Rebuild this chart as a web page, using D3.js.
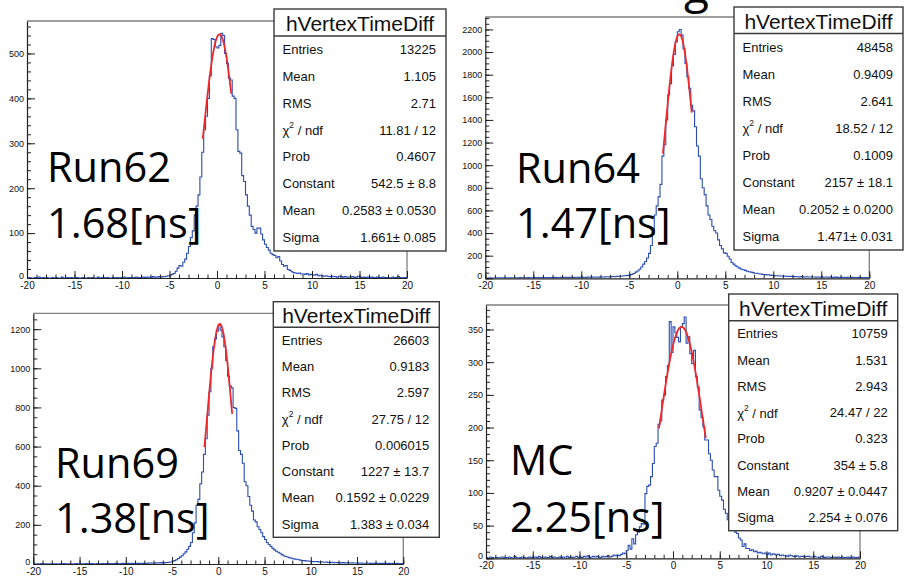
<!DOCTYPE html>
<html><head><meta charset="utf-8">
<script src="https://cdn.jsdelivr.net/npm/d3@7"></script>
<style>body{margin:0;background:#fff;overflow:hidden}</style>
</head><body><svg id="c" width="912" height="578"></svg>
<script>
// ---------------- DATA ----------------
const panelNames = ["Run62", "Run64", "Run69", "MC"];
const resolutionLabels = ["1.68[ns]", "1.47[ns]", "1.38[ns]", "2.25[ns]"];
const histName = "hVertexTimeDiff";
const clippedTitleFragment = "g";
const xDomain = [-20, 20];
const nBins = 200;
const xMajorTicks = [-20, -15, -10, -5, 0, 5, 10, 15, 20];

// bin contents, 0.2 wide bins from -20 to 20 (10 bins per row)
const run62Counts = [
  0,1,0,0,1,0,2,0,1,0,
  1,0,0,1,0,1,0,0,2,0,
  0,1,0,1,0,0,1,0,0,1,
  0,0,1,0,1,0,0,2,0,1,
  1,0,1,0,0,1,0,1,0,1,
  1,2,0,1,1,0,1,2,1,1,
  1,2,1,2,2,1,3,2,2,3,
  2,3,3,4,5,6,8,10,15,22,
  28,26,35,42,55,70,90,105,140,160,
  185,225,280,330,360,400,450,533,531,515,
  512,518,545,540,500,478,445,441,405,400,
  330,282,278,228,215,185,160,140,115,108,
  100,111,111,98,85,75,68,62,55,52,
  50,45,48,38,30,26,28,19,17,14,
  12,11,10,11,9,9,8,10,7,8,
  7,6,8,5,6,5,4,5,4,3,
  4,3,3,2,4,3,2,3,2,2,
  2,3,1,2,4,2,1,2,1,2,
  1,2,1,1,2,1,1,2,1,1,
  1,0,2,1,1,3,1,0,1,1
];
const run64Counts = [
  3,2,4,3,2,3,5,3,4,3,
  4,3,5,4,3,4,5,4,6,4,
  5,4,6,5,4,6,5,7,5,6,
  6,5,7,6,7,6,8,6,7,8,
  7,8,6,8,9,7,8,9,8,9,
  8,9,7,10,9,10,11,9,12,10,
  12,11,13,14,12,15,16,14,17,18,
  18,20,22,24,26,30,35,42,55,65,
  80,100,125,148,180,220,290,390,560,640,
  720,830,1080,1180,1400,1620,1720,1880,1980,2090,
  2180,2200,2150,2030,1900,1780,1680,1530,1480,1340,
  1170,1080,880,800,740,640,560,520,460,420,
  400,340,290,260,225,220,195,170,140,125,
  110,100,90,80,75,70,62,58,55,50,
  45,44,40,38,35,33,30,31,28,26,
  24,22,23,20,21,19,18,17,16,17,
  15,16,14,13,15,13,12,14,11,12,
  11,12,10,11,10,10,9,11,9,10,
  9,8,10,8,9,8,9,7,8,9,
  7,8,7,6,8,7,6,7,6,5
];
const run69Counts = [
  1,0,1,0,2,1,0,1,0,1,
  0,1,1,0,1,0,2,1,0,1,
  1,0,1,2,0,1,1,0,2,1,
  1,2,1,0,2,1,1,2,1,2,
  2,1,2,1,3,2,1,2,3,2,
  2,3,2,3,2,4,3,3,4,3,
  4,3,5,4,5,4,6,5,6,7,
  6,7,8,9,10,14,17,22,28,35,
  42,52,62,75,90,110,160,210,300,330,
  410,470,560,640,760,880,1000,1110,1150,1190,
  1220,1195,1160,1110,1040,960,910,900,800,795,
  680,580,560,515,420,400,345,300,270,225,
  215,190,175,160,140,125,110,100,90,80,
  72,65,60,55,48,42,38,36,32,30,
  27,25,24,22,20,18,17,16,15,14,
  13,12,13,12,11,11,10,9,10,8,
  8,9,7,8,7,7,6,7,6,6,
  6,5,6,5,5,5,4,5,4,4,
  4,4,3,4,3,3,4,3,3,3,
  3,2,3,2,3,2,3,2,2,2
];
const mcCounts = [
  1,0,2,1,0,1,1,0,2,1,
  0,1,2,1,0,3,1,0,1,2,
  1,0,1,2,1,0,2,1,3,1,
  0,2,1,1,3,1,2,0,1,2,
  1,2,0,3,1,2,1,2,3,1,
  2,1,3,2,4,1,2,3,2,3,
  2,1,3,2,3,4,2,3,5,4,
  5,4,6,8,7,12,20,14,30,22,
  36,40,48,53,52,99,110,112,125,145,
  171,176,205,210,242,250,278,295,362,315,
  354,345,338,331,354,359,369,329,339,313,
  298,318,278,262,227,215,201,181,181,160,
  150,135,125,125,104,95,89,75,69,59,
  55,50,45,40,38,31,28,18,22,15,
  15,12,13,10,11,8,9,8,7,8,
  6,8,5,7,6,5,6,4,5,4,
  4,3,5,4,3,3,4,2,3,3,
  2,3,3,2,2,3,2,2,1,3,
  2,1,2,2,1,1,2,1,2,1,
  2,1,1,2,1,1,2,1,1,2
];

const statLabels = ["Entries", "Mean", "RMS", "CHI2", "Prob", "Constant", "Mean", "Sigma"];
const run62Stats = ["13225", "1.105", "2.71", "11.81 / 12", "0.4607", "542.5 \u00b1 8.8", "0.2583 \u00b1 0.0530", "1.661\u00b1 0.085"];
const run64Stats = ["48458", "0.9409", "2.641", "18.52 / 12", "0.1009", "2157 \u00b1 18.1", "0.2052 \u00b1 0.0200", "1.471\u00b1 0.031"];
const run69Stats = ["26603", "0.9183", "2.597", "27.75 / 12", "0.006015", "1227 \u00b1 13.7", "0.1592 \u00b1 0.0229", "1.383 \u00b1 0.034"];
const mcStats = ["10759", "1.531", "2.943", "24.47 / 22", "0.323", "354 \u00b1 5.8", "0.9207 \u00b1 0.0447", "2.254 \u00b1 0.076"];

// Gaussian fit results [Constant, Mean, Sigma] and fit ranges
const run62Fit = [542.5, 0.2583, 1.661];
const run64Fit = [2157, 0.2052, 1.471];
const run69Fit = [1227, 0.1592, 1.383];
const mcFit = [354, 0.9207, 2.254];
const fitRanges = [[-1.5, 1.5], [-1.5, 1.5], [-1.5, 1.5], [-1.5, 3.5]];

const yMajorSteps = [100, 200, 200, 50];
const yMinorSteps = [20, 50, 50, 10];

// ---------------- LAYOUT ----------------
const layouts = [
  {x0: 27, x1: 407, yt: 21, yb: 278, box: {l: 274, r: 446, t: 9, b: 251, sep: 36}, big: {x: 47, y1: 182, y2: 238}},
  {x0: 485.3, x1: 869.3, yt: 17, yb: 278.3, box: {l: 734, r: 903, t: 7, b: 250, sep: 33.5}, big: {x: 516, y1: 183, y2: 238}},
  {x0: 33.3, x1: 403.3, yt: 313.3, yb: 564, box: {l: 273.3, r: 439.3, t: 301.7, b: 537.3, sep: 327.3}, big: {x: 55, y1: 478, y2: 533}},
  {x0: 486, x1: 860, yt: 305, yb: 558.3, box: {l: 728.7, r: 897.7, t: 294, b: 530.7, sep: 320.7}, big: {x: 510, y1: 475, y2: 531.5}}
];

const countsList = [run62Counts, run64Counts, run69Counts, mcCounts];
const statsList = [run62Stats, run64Stats, run69Stats, mcStats];
const fitList = [run62Fit, run64Fit, run69Fit, mcFit];

const svg = d3.select("#c");
const AXFONT = "'Liberation Sans', Arial, Helvetica, sans-serif";
const bigFont = "'Open Sans', 'Noto Sans', sans-serif";

panelNames.forEach((name, k) => {
  const L = layouts[k];
  const counts = countsList[k];
  const x = d3.scaleLinear().domain(xDomain).range([L.x0, L.x1]);
  const ymax = d3.max(counts) * 1.05;
  const y = d3.scaleLinear().domain([0, ymax]).range([L.yb, L.yt]);
  const g = svg.append("g");

  const clipId = "clip" + k;
  svg.append("clipPath").attr("id", clipId).append("rect")
    .attr("x", L.x0).attr("y", L.yt).attr("width", L.x1 - L.x0).attr("height", L.yb - L.yt);

  // frame (top & right)
  g.append("path").attr("d", `M${L.x0},${L.yt}H${L.x1}V${L.yb}`)
    .attr("fill", "none").attr("stroke", "#808080").attr("stroke-width", 1.3);

  // histogram steps
  const bw = (xDomain[1] - xDomain[0]) / nBins;
  const pts = [[xDomain[0], 0]];
  counts.forEach((c, i) => {
    const xl = xDomain[0] + i * bw;
    pts.push([xl, c], [xl + bw, c]);
  });
  pts.push([xDomain[1], 0]);
  g.append("path")
    .attr("clip-path", `url(#${clipId})`)
    .attr("d", d3.line().x(d => x(d[0])).y(d => y(d[1]))(pts))
    .attr("fill", "none").attr("stroke", "#2a4cb3").attr("stroke-width", 1.1);

  // gaussian fit drawn from the fitted parameters
  const [A, mu, sig] = fitList[k];
  const fr = fitRanges[k];
  const fx = d3.range(fr[0], fr[1] + 1e-9, 0.02);
  g.append("path")
    .attr("d", d3.line().x(d => x(d)).y(d => y(A * Math.exp(-0.5 * ((d - mu) / sig) ** 2)))(fx))
    .attr("fill", "none").attr("stroke", "#f0282a").attr("stroke-width", 1.8);

  // axes
  const xAx = g.append("g").attr("transform", `translate(0,${L.yb})`)
    .call(d3.axisBottom(x).tickValues(xMajorTicks).tickSize(-7).tickSizeOuter(0).tickPadding(4.5).tickFormat(d => String(d)));
  g.append("g").attr("transform", `translate(0,${L.yb})`)
    .call(d3.axisBottom(x).tickValues(d3.range(xDomain[0], xDomain[1] + 1, 1)).tickSize(-3.5).tickFormat(""))
    .call(s => s.select(".domain").remove());
  const yMaj = d3.range(0, ymax, yMajorSteps[k]);
  const yMin = d3.range(0, ymax, yMinorSteps[k]);
  const yAx = g.append("g").attr("transform", `translate(${L.x0},0)`)
    .call(d3.axisLeft(y).tickValues(yMaj).tickSize(-8).tickSizeOuter(0).tickPadding(3).tickFormat(d => String(d)));
  g.append("g").attr("transform", `translate(${L.x0},0)`)
    .call(d3.axisLeft(y).tickValues(yMin).tickSize(-4).tickFormat(""))
    .call(s => s.select(".domain").remove());
  g.selectAll(".tick line").attr("stroke", "#222");
  g.selectAll(".domain").attr("stroke", "#222").attr("stroke-width", 1.2);
  xAx.selectAll("text").attr("font-family", AXFONT).attr("font-size", 10).attr("fill", "#111").attr("dy", "0.62em");
  yAx.selectAll("text").attr("font-family", AXFONT).attr("font-size", 9).attr("fill", "#111");
  yAx.selectAll(".tick").filter(d => d === 0).select("text").attr("dy", "0.05em");

  // stat box
  const B = L.box;
  const sb = g.append("g");
  sb.append("rect").attr("x", B.l).attr("y", B.t).attr("width", B.r - B.l).attr("height", B.b - B.t)
    .attr("fill", "#fff").attr("stroke", "#3a3a3a").attr("stroke-width", 1.4);
  sb.append("line").attr("x1", B.l).attr("x2", B.r).attr("y1", B.sep).attr("y2", B.sep)
    .attr("stroke", "#3a3a3a").attr("stroke-width", 1.4);
  sb.append("text").attr("x", (B.l + B.r) / 2).attr("y", (B.t + B.sep) / 2 + 1)
    .attr("text-anchor", "middle").attr("dominant-baseline", "central")
    .attr("font-family", AXFONT).attr("font-size", 21).attr("fill", "#111").text(histName);
  const rowH = (B.b - B.sep) / statLabels.length;
  statLabels.forEach((lab, i) => {
    const cy = B.sep + rowH * (i + 0.5);
    const t = sb.append("text").attr("x", B.l + 8.5).attr("y", cy)
      .attr("dominant-baseline", "central").attr("font-family", AXFONT).attr("font-size", 13).attr("fill", "#111");
    if (lab === "CHI2") {
      t.append("tspan").text("\u03c7");
      t.append("tspan").attr("font-size", 8.5).attr("dy", -5).text("2");
      t.append("tspan").attr("dy", 5).text(" / ndf");
    } else {
      t.text(lab);
    }
    sb.append("text").attr("x", B.r - 10).attr("y", cy).attr("text-anchor", "end")
      .attr("dominant-baseline", "central").attr("font-family", AXFONT).attr("font-size", 13).attr("fill", "#111")
      .text(statsList[k][i]);
  });

  // big labels
  g.append("text").attr("x", L.big.x).attr("y", L.big.y1).attr("font-family", bigFont).attr("font-size", 41.5)
    .attr("fill", "#000").text(name);
  g.append("text").attr("x", L.big.x).attr("y", L.big.y2).attr("font-family", bigFont).attr("font-size", 41.5)
    .attr("fill", "#000").text(resolutionLabels[k]);
});

// fragment of a slide title cut off by the top edge of the picture
svg.append("text").attr("x", 684).attr("y", 3).attr("font-family", bigFont).attr("font-size", 46)
  .attr("fill", "#000").text(clippedTitleFragment);
</script>
</body></html>
